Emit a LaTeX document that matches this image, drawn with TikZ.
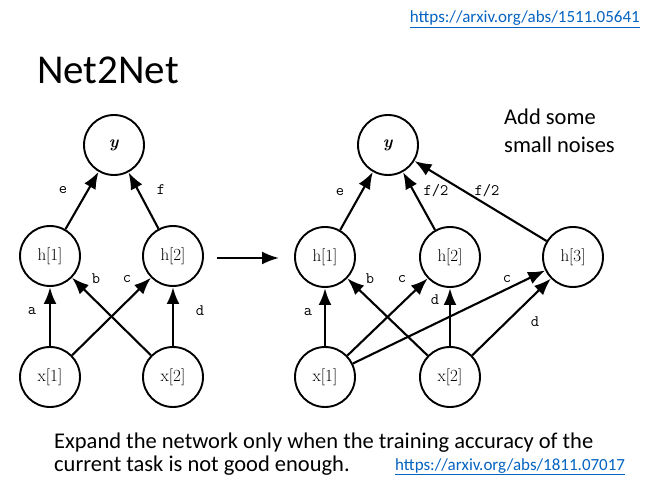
\documentclass[tikz,border=0pt]{standalone}
\usepackage{fontspec}
\newfontfamily\calib{Carlito}
\usetikzlibrary{arrows.meta}
\definecolor{linkblue}{HTML}{0563C1}
\begin{document}
\begin{tikzpicture}[x=1pt,y=-1pt,
  neuron/.style={circle,draw,line width=1.9pt,minimum size=60pt,inner sep=0pt,
    font=\fontsize{17}{20}\selectfont},
  conn/.style={line width=2.1pt,-{Latex[length=17pt,width=13pt]}},
  thickconn/.style={line width=2.9pt,-{Latex[length=17pt,width=13pt]}},
  wlab/.style={font=\ttfamily\fontsize{16}{19}\selectfont},
  slide/.style={font=\calib\fontsize{22.5}{27}\selectfont,inner sep=0pt},
  link/.style={font=\calib\fontsize{17}{20}\selectfont,text=linkblue,inner sep=0pt}]
\useasboundingbox[fill=white] (0,0) rectangle (650,478);
% title and links
\node[anchor=west,inner sep=0pt,font=\calib\fontsize{41}{48}\selectfont] (title) at (37,70) {Net2Net};
\node[link,anchor=base east] (link1) at (640,23) {\underline{https://arxiv.org/abs/1511.05641}};
% left network
\node[neuron] (ly) at (114,145) {\textbf{\textit{y}}};
\node[neuron] (lh1) at (50,256) {h[1]};
\node[neuron] (lh2) at (173,256) {h[2]};
\node[neuron] (lx1) at (50,377) {x[1]};
\node[neuron] (lx2) at (173,377) {x[2]};
\draw[conn] (lh1) -- (ly);
\draw[conn] (lh2) -- (ly);
\draw[thickconn] (lx1) -- (lh1);
\draw[conn] (lx2) -- (lh1);
\draw[conn] (lx1) -- (lh2);
\draw[thickconn] (lx2) -- (lh2);
\node[wlab] (le) at (63,190) {e};
\node[wlab] (lf) at (161,190) {f};
\node[wlab] (la) at (32,311) {a};
\node[wlab] (lb) at (96,279) {b};
\node[wlab] (lc) at (127,279) {c};
\node[wlab] (ld) at (200,311) {d};
% middle arrow
\coordinate (ms) at (217,258);
\coordinate (me) at (279,258);
\draw[conn] (ms) -- (me);
% right network
\node[neuron] (ry) at (388,145) {\textbf{\textit{y}}};
\node[neuron] (rh1) at (325,257) {h[1]};
\node[neuron] (rh2) at (450,257) {h[2]};
\node[neuron] (rh3) at (573,257) {h[3]};
\node[neuron] (rx1) at (325,377) {x[1]};
\node[neuron] (rx2) at (450,377) {x[2]};
\draw[conn] (rh1) -- (ry);
\draw[conn] (rh2) -- (ry);
\draw[conn] (rh3) -- (ry);
\draw[thickconn] (rx1) -- (rh1);
\draw[conn] (rx2) -- (rh1);
\draw[conn] (rx1) -- (rh2);
\draw[thickconn] (rx2) -- (rh2);
\draw[conn] (rx1) -- (rh3);
\draw[conn] (rx2) -- (rh3);
\node[wlab] (re) at (340,192) {e};
\node[wlab] (rf1) at (436,191) {f/2};
\node[wlab] (rf2) at (487,191) {f/2};
\node[wlab] (ra) at (308,312) {a};
\node[wlab] (rb) at (370,279) {b};
\node[wlab] (rc1) at (402,279) {c};
\node[wlab] (rd1) at (435,300) {d};
\node[wlab] (rc2) at (507,279) {c};
\node[wlab] (rd2) at (535,322) {d};
% note
\node[slide,anchor=base west] (add1) at (504,125) {Add some};
\node[slide,anchor=base west] (add2) at (504,153) {small noises};
% bottom
\node[slide,anchor=base west] (exp1) at (54,448) {Expand the network only when the training accuracy of the};
\node[slide,anchor=base west] (exp2) at (54,471) {current task is not good enough.};
\node[link,anchor=base west] (link2) at (395,470) {\underline{https://arxiv.org/abs/1811.07017}};
\end{tikzpicture}
\end{document}
